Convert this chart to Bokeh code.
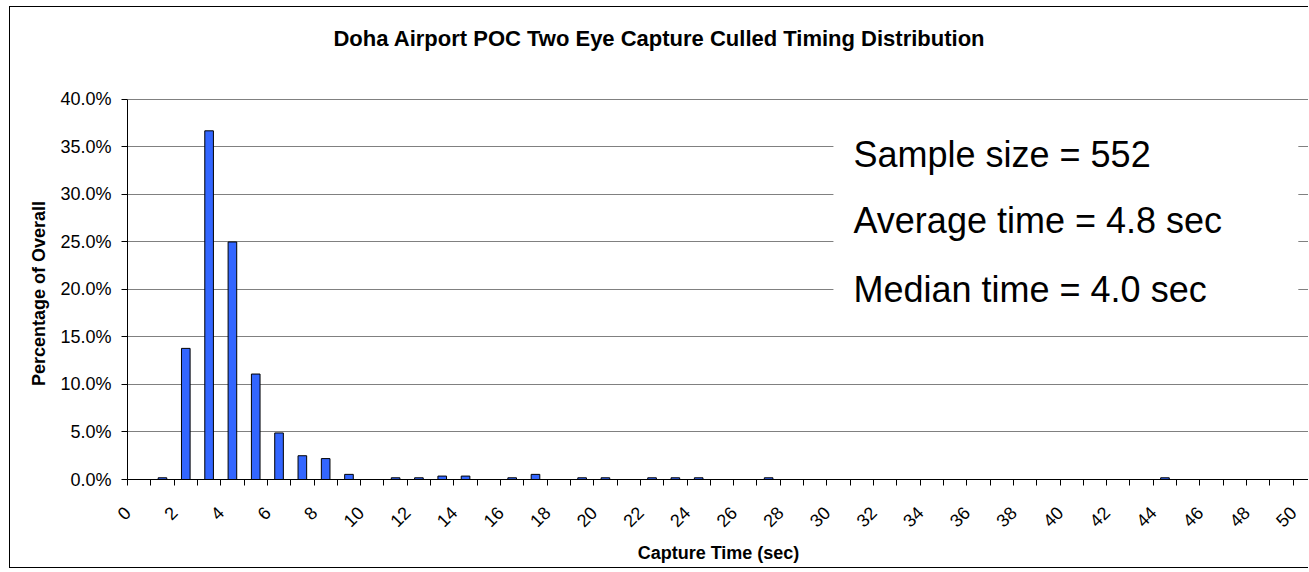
import math
from bokeh.plotting import figure
from bokeh.models import (ColumnDataSource, FixedTicker, PrintfTickFormatter,
                          Range1d, BoxAnnotation, Label)
from bokeh.embed import file_html
from bokeh.resources import INLINE

# ---------------- data ----------------
title_text = "Doha Airport POC Two Eye Capture Culled Timing Distribution"
x_title = "Capture Time (sec)"
y_title = "Percentage of Overall"

# histogram bins: bin i covers (i, i+1] seconds
bin_low = list(range(50))
pct_overall = [
    0.0, 0.18, 13.8, 36.7, 25.0, 11.1, 4.9, 2.5, 2.2, 0.54,
    0.0, 0.18, 0.18, 0.36, 0.36, 0.0, 0.18, 0.54, 0.0, 0.18,
    0.18, 0.0, 0.18, 0.18, 0.18, 0.0, 0.0, 0.18, 0.0, 0.0,
    0.0, 0.0, 0.0, 0.0, 0.0, 0.0, 0.0, 0.0, 0.0, 0.0,
    0.0, 0.0, 0.0, 0.0, 0.18, 0.0, 0.0, 0.0, 0.0, 0.0,
]
x_tick_values = list(range(51))
x_tick_labels = [str(v) if v % 2 == 0 else "" for v in x_tick_values]
y_tick_values = [0, 5, 10, 15, 20, 25, 30, 35, 40]
notes = ["Sample size = 552", "Average time = 4.8 sec", "Median time = 4.0 sec"]

FONT = "Liberation Sans"
BLACK = "#000000"

src = ColumnDataSource(dict(x=[b + 0.5 for b in bin_low], top=pct_overall))

# plot area extends up to the top of the canvas so the title (a Label) is visible;
# the y axis itself is bounded to 0..40 %
p = figure(width=1299, height=562, output_backend="svg", toolbar_location=None,
           x_range=Range1d(0, 50.7), y_range=Range1d(0, 49.68),
           min_border_left=117, min_border_right=0,
           min_border_top=0, min_border_bottom=90,
           background_fill_color="white", border_fill_color="white",
           outline_line_color=None,
           styles={"margin-left": "9px", "margin-top": "6px",
                   "border-left": "1px solid #000000", "border-top": "1px solid #000000",
                   "border-bottom": "1px solid #000000"})

p.vbar(x="x", top="top", width=0.37, source=src,
       fill_color="#3366FF", line_color=BLACK, line_width=1)

# y axis (label padded with trailing no-break spaces so it centres on the 0-40 % span)
p.yaxis.bounds = (0, 40)
p.yaxis.ticker = FixedTicker(ticks=y_tick_values, minor_ticks=[])
p.yaxis.formatter = PrintfTickFormatter(format="%.1f%%")
p.yaxis.axis_label = y_title + "\u00a0" * 20
p.yaxis.axis_label_text_font = FONT
p.yaxis.axis_label_text_font_size = "18px"
p.yaxis.axis_label_text_font_style = "bold"
p.yaxis.axis_label_text_color = BLACK
p.yaxis.axis_label_standoff = 8
p.yaxis.major_label_text_font = FONT
p.yaxis.major_label_text_font_size = "18px"
p.yaxis.major_label_text_color = BLACK
p.yaxis.major_label_standoff = 10
p.yaxis.major_tick_out = 6
p.yaxis.major_tick_in = 0
p.yaxis.axis_line_color = BLACK
p.yaxis.major_tick_line_color = BLACK

# x axis
p.xaxis.ticker = FixedTicker(ticks=x_tick_values, minor_ticks=[])
p.xaxis.major_label_overrides = {v: lab for v, lab in zip(x_tick_values, x_tick_labels)}
p.xaxis.major_label_orientation = math.pi / 4
p.xaxis.axis_label = x_title
p.xaxis.axis_label_text_font = FONT
p.xaxis.axis_label_text_font_size = "18px"
p.xaxis.axis_label_text_font_style = "bold"
p.xaxis.axis_label_text_color = BLACK
p.xaxis.axis_label_standoff = 7
p.xaxis.major_label_text_font = FONT
p.xaxis.major_label_text_font_size = "18px"
p.xaxis.major_label_text_color = BLACK
p.xaxis.major_label_standoff = 24
p.xaxis.major_tick_out = 6
p.xaxis.major_tick_in = 0
p.xaxis.axis_line_color = BLACK
p.xaxis.major_tick_line_color = BLACK

p.xgrid.grid_line_color = None
p.ygrid.grid_line_color = "#808080"
p.ygrid.grid_line_width = 1

# chart title
p.add_layout(Label(x=8.835, y=46.43, text=title_text, text_font=FONT,
                   text_font_size="22px", text_font_style="bold",
                   text_baseline="middle", text_align="left", text_color=BLACK))

# white text box
p.add_layout(BoxAnnotation(left=30.28, right=50.22, bottom=16.5, top=37.5,
                           fill_color="white", fill_alpha=1.0, line_color=None,
                           level="annotation"))
for txt, yv in zip(notes, [34.19, 27.23, 19.98]):
    p.add_layout(Label(x=31.14, y=yv, text=txt, text_font=FONT,
                       text_font_size="36px", text_baseline="middle",
                       text_align="left", text_color=BLACK))

open("out.html", "w").write(file_html(p, INLINE))
